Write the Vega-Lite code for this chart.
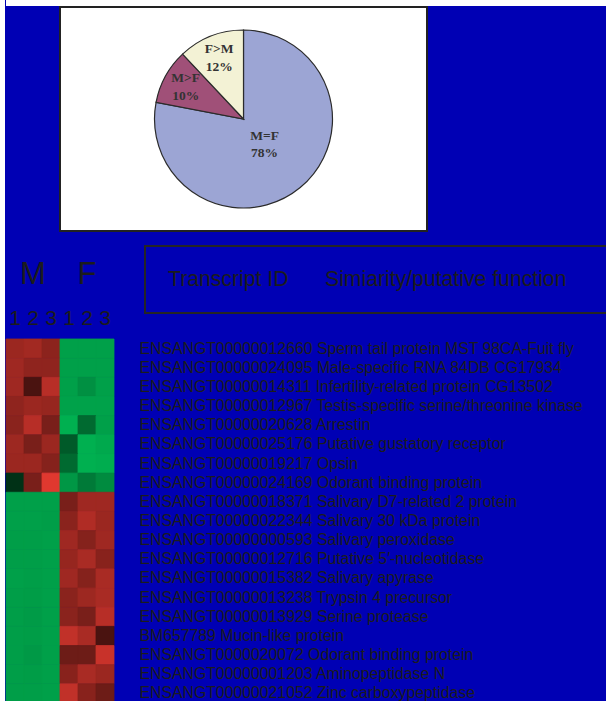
{
  "$schema": "https://vega.github.io/schema/vega-lite/v6.json",
  "background": "#0000b4",
  "padding": 0,
  "spacing": 0,
  "config": {
    "view": {"stroke": null},
    "font": "Liberation Sans",
    "text": {"font": "Liberation Sans", "color": "#1c1c1c"}
  },
  "datasets": {
    "pie": [
      {"grp": "M=F", "pct": 0.78, "k": 1},
      {"grp": "M>F", "pct": 0.10, "k": 2},
      {"grp": "F>M", "pct": 0.12, "k": 3}
    ],
    "head": [
      {"lvl": "sex", "key": "M", "txt": "M"},
      {"lvl": "sex", "key": "F", "txt": "F"},
      {"lvl": "rep", "key": "M1", "txt": "1"},
      {"lvl": "rep", "key": "M2", "txt": "2"},
      {"lvl": "rep", "key": "M3", "txt": "3"},
      {"lvl": "rep", "key": "F1", "txt": "1"},
      {"lvl": "rep", "key": "F2", "txt": "2"},
      {"lvl": "rep", "key": "F3", "txt": "3"}
    ],
    "genes": [
      {"id": "ENSANGT00000012660", "label": "ENSANGT00000012660 Sperm tail protein MST 98CA-Fuit fly"},
      {"id": "ENSANGT00000024095", "label": "ENSANGT00000024095 Male-specific RNA 84DB CG17934"},
      {"id": "ENSANGT00000014311", "label": "ENSANGT00000014311 Infertility-related protein CG13502"},
      {"id": "ENSANGT00000012967", "label": "ENSANGT00000012967 Testis-specific serine/threonine kinase"},
      {"id": "ENSANGT00000020628", "label": "ENSANGT00000020628 Arrestin"},
      {"id": "ENSANGT00000025176", "label": "ENSANGT00000025176 Putative gustatory receptor"},
      {"id": "ENSANGT00000019217", "label": "ENSANGT00000019217 Opsin"},
      {"id": "ENSANGT00000024169", "label": "ENSANGT00000024169 Odorant binding protein"},
      {"id": "ENSANGT00000018371", "label": "ENSANGT00000018371 Salivary D7-related 2 protein"},
      {"id": "ENSANGT00000022344", "label": "ENSANGT00000022344 Salivary 30 kDa protein"},
      {"id": "ENSANGT00000000593", "label": "ENSANGT00000000593 Salivary peroxidase"},
      {"id": "ENSANGT00000012716", "label": "ENSANGT00000012716 Putative 5′-nucleotidase"},
      {"id": "ENSANGT00000015382", "label": "ENSANGT00000015382 Salivary apyrase"},
      {"id": "ENSANGT00000013238", "label": "ENSANGT00000013238 Trypsin 4 precursor"},
      {"id": "ENSANGT00000013929", "label": "ENSANGT00000013929 Serine protease"},
      {"id": "BM657789", "label": "BM657789 Mucin-like protein"},
      {"id": "ENSANGT0000020072", "label": "ENSANGT0000020072 Odorant binding protein"},
      {"id": "ENSANGT00000001203", "label": "ENSANGT00000001203 Aminopeptidase N"},
      {"id": "ENSANGT00000021052", "label": "ENSANGT00000021052 Zinc carboxypeptidase"}
    ],
    "cells": [
      {"id": "ENSANGT00000012660", "s": "M1", "v": 0.65},
      {"id": "ENSANGT00000012660", "s": "M2", "v": 0.68},
      {"id": "ENSANGT00000012660", "s": "M3", "v": 0.59},
      {"id": "ENSANGT00000012660", "s": "F1", "v": -0.89},
      {"id": "ENSANGT00000012660", "s": "F2", "v": -0.89},
      {"id": "ENSANGT00000012660", "s": "F3", "v": -0.89},
      {"id": "ENSANGT00000024095", "s": "M1", "v": 0.67},
      {"id": "ENSANGT00000024095", "s": "M2", "v": 0.60},
      {"id": "ENSANGT00000024095", "s": "M3", "v": 0.60},
      {"id": "ENSANGT00000024095", "s": "F1", "v": -0.89},
      {"id": "ENSANGT00000024095", "s": "F2", "v": -0.89},
      {"id": "ENSANGT00000024095", "s": "F3", "v": -0.89},
      {"id": "ENSANGT00000014311", "s": "M1", "v": 0.67},
      {"id": "ENSANGT00000014311", "s": "M2", "v": 0.31},
      {"id": "ENSANGT00000014311", "s": "M3", "v": 0.77},
      {"id": "ENSANGT00000014311", "s": "F1", "v": -0.89},
      {"id": "ENSANGT00000014311", "s": "F2", "v": -0.80},
      {"id": "ENSANGT00000014311", "s": "F3", "v": -0.89},
      {"id": "ENSANGT00000012967", "s": "M1", "v": 0.60},
      {"id": "ENSANGT00000012967", "s": "M2", "v": 0.65},
      {"id": "ENSANGT00000012967", "s": "M3", "v": 0.63},
      {"id": "ENSANGT00000012967", "s": "F1", "v": -0.90},
      {"id": "ENSANGT00000012967", "s": "F2", "v": -0.90},
      {"id": "ENSANGT00000012967", "s": "F3", "v": -0.90},
      {"id": "ENSANGT00000020628", "s": "M1", "v": 0.58},
      {"id": "ENSANGT00000020628", "s": "M2", "v": 0.77},
      {"id": "ENSANGT00000020628", "s": "M3", "v": 0.51},
      {"id": "ENSANGT00000020628", "s": "F1", "v": -0.98},
      {"id": "ENSANGT00000020628", "s": "F2", "v": -0.59},
      {"id": "ENSANGT00000020628", "s": "F3", "v": -0.89},
      {"id": "ENSANGT00000025176", "s": "M1", "v": 0.66},
      {"id": "ENSANGT00000025176", "s": "M2", "v": 0.51},
      {"id": "ENSANGT00000025176", "s": "M3", "v": 0.65},
      {"id": "ENSANGT00000025176", "s": "F1", "v": -0.50},
      {"id": "ENSANGT00000025176", "s": "F2", "v": -0.98},
      {"id": "ENSANGT00000025176", "s": "F3", "v": -0.94},
      {"id": "ENSANGT00000019217", "s": "M1", "v": 0.65},
      {"id": "ENSANGT00000019217", "s": "M2", "v": 0.65},
      {"id": "ENSANGT00000019217", "s": "M3", "v": 0.56},
      {"id": "ENSANGT00000019217", "s": "F1", "v": -0.59},
      {"id": "ENSANGT00000019217", "s": "F2", "v": -0.98},
      {"id": "ENSANGT00000019217", "s": "F3", "v": -0.96},
      {"id": "ENSANGT00000024169", "s": "M1", "v": -0.27},
      {"id": "ENSANGT00000024169", "s": "M2", "v": 0.51},
      {"id": "ENSANGT00000024169", "s": "M3", "v": 0.94},
      {"id": "ENSANGT00000024169", "s": "F1", "v": -0.84},
      {"id": "ENSANGT00000024169", "s": "F2", "v": -0.68},
      {"id": "ENSANGT00000024169", "s": "F3", "v": -0.77},
      {"id": "ENSANGT00000018371", "s": "M1", "v": -0.89},
      {"id": "ENSANGT00000018371", "s": "M2", "v": -0.89},
      {"id": "ENSANGT00000018371", "s": "M3", "v": -0.89},
      {"id": "ENSANGT00000018371", "s": "F1", "v": 0.51},
      {"id": "ENSANGT00000018371", "s": "F2", "v": 0.67},
      {"id": "ENSANGT00000018371", "s": "F3", "v": 0.67},
      {"id": "ENSANGT00000022344", "s": "M1", "v": -0.89},
      {"id": "ENSANGT00000022344", "s": "M2", "v": -0.89},
      {"id": "ENSANGT00000022344", "s": "M3", "v": -0.88},
      {"id": "ENSANGT00000022344", "s": "F1", "v": 0.58},
      {"id": "ENSANGT00000022344", "s": "F2", "v": 0.74},
      {"id": "ENSANGT00000022344", "s": "F3", "v": 0.65},
      {"id": "ENSANGT00000000593", "s": "M1", "v": -0.88},
      {"id": "ENSANGT00000000593", "s": "M2", "v": -0.88},
      {"id": "ENSANGT00000000593", "s": "M3", "v": -0.89},
      {"id": "ENSANGT00000000593", "s": "F1", "v": 0.67},
      {"id": "ENSANGT00000000593", "s": "F2", "v": 0.56},
      {"id": "ENSANGT00000000593", "s": "F3", "v": 0.67},
      {"id": "ENSANGT00000012716", "s": "M1", "v": -0.88},
      {"id": "ENSANGT00000012716", "s": "M2", "v": -0.88},
      {"id": "ENSANGT00000012716", "s": "M3", "v": -0.89},
      {"id": "ENSANGT00000012716", "s": "F1", "v": 0.63},
      {"id": "ENSANGT00000012716", "s": "F2", "v": 0.71},
      {"id": "ENSANGT00000012716", "s": "F3", "v": 0.57},
      {"id": "ENSANGT00000015382", "s": "M1", "v": -0.89},
      {"id": "ENSANGT00000015382", "s": "M2", "v": -0.88},
      {"id": "ENSANGT00000015382", "s": "M3", "v": -0.89},
      {"id": "ENSANGT00000015382", "s": "F1", "v": 0.67},
      {"id": "ENSANGT00000015382", "s": "F2", "v": 0.56},
      {"id": "ENSANGT00000015382", "s": "F3", "v": 0.71},
      {"id": "ENSANGT00000013238", "s": "M1", "v": -0.88},
      {"id": "ENSANGT00000013238", "s": "M2", "v": -0.87},
      {"id": "ENSANGT00000013238", "s": "M3", "v": -0.89},
      {"id": "ENSANGT00000013238", "s": "F1", "v": 0.58},
      {"id": "ENSANGT00000013238", "s": "F2", "v": 0.66},
      {"id": "ENSANGT00000013238", "s": "F3", "v": 0.71},
      {"id": "ENSANGT00000013929", "s": "M1", "v": -0.88},
      {"id": "ENSANGT00000013929", "s": "M2", "v": -0.86},
      {"id": "ENSANGT00000013929", "s": "M3", "v": -0.89},
      {"id": "ENSANGT00000013929", "s": "F1", "v": 0.58},
      {"id": "ENSANGT00000013929", "s": "F2", "v": 0.51},
      {"id": "ENSANGT00000013929", "s": "F3", "v": 0.77},
      {"id": "BM657789", "s": "M1", "v": -0.88},
      {"id": "BM657789", "s": "M2", "v": -0.87},
      {"id": "BM657789", "s": "M3", "v": -0.89},
      {"id": "BM657789", "s": "F1", "v": 0.81},
      {"id": "BM657789", "s": "F2", "v": 0.71},
      {"id": "BM657789", "s": "F3", "v": 0.31},
      {"id": "ENSANGT0000020072", "s": "M1", "v": -0.88},
      {"id": "ENSANGT0000020072", "s": "M2", "v": -0.85},
      {"id": "ENSANGT0000020072", "s": "M3", "v": -0.89},
      {"id": "ENSANGT0000020072", "s": "F1", "v": 0.46},
      {"id": "ENSANGT0000020072", "s": "F2", "v": 0.46},
      {"id": "ENSANGT0000020072", "s": "F3", "v": 0.84},
      {"id": "ENSANGT00000001203", "s": "M1", "v": -0.88},
      {"id": "ENSANGT00000001203", "s": "M2", "v": -0.87},
      {"id": "ENSANGT00000001203", "s": "M3", "v": -0.89},
      {"id": "ENSANGT00000001203", "s": "F1", "v": 0.57},
      {"id": "ENSANGT00000001203", "s": "F2", "v": 0.71},
      {"id": "ENSANGT00000001203", "s": "F3", "v": 0.65},
      {"id": "ENSANGT00000021052", "s": "M1", "v": -0.88},
      {"id": "ENSANGT00000021052", "s": "M2", "v": -0.88},
      {"id": "ENSANGT00000021052", "s": "M3", "v": -0.89},
      {"id": "ENSANGT00000021052", "s": "F1", "v": 0.81},
      {"id": "ENSANGT00000021052", "s": "F2", "v": 0.57},
      {"id": "ENSANGT00000021052", "s": "F3", "v": 0.46}
    ]
  },
  "hconcat": [
    {
      "width": 5,
      "height": 701,
      "view": {"fill": "white"},
      "data": {"values": []},
      "mark": {"type": "rect"},
      "encoding": {}
    },
    {
      "spacing": 0,
      "vconcat": [
        {
          "width": 601,
          "height": 6,
          "view": {"fill": "white"},
          "data": {"values": []},
          "mark": {"type": "rect"},
          "encoding": {}
        },
        {
          "spacing": 0,
          "hconcat": [
            {
              "width": 53,
              "height": 238,
              "data": {"values": []},
              "mark": {"type": "rect"},
              "encoding": {}
            },
            {
              "width": 367,
              "height": 224,
              "view": {"fill": "white", "stroke": "#222222", "strokeWidth": 2},
              "data": {"name": "pie"},
              "encoding": {
                "theta": {"field": "pct", "type": "quantitative", "stack": true},
                "order": {"field": "k", "type": "quantitative"}
              },
              "layer": [
                {
                  "mark": {"type": "arc", "outerRadius": 89, "stroke": "#2b2b2b", "strokeWidth": 1.2},
                  "encoding": {
                    "color": {
                      "field": "grp",
                      "type": "nominal",
                      "scale": {"domain": ["M=F", "M>F", "F>M"], "range": ["#9ca5d4", "#a05078", "#f3f2d5"]},
                      "legend": null
                    }
                  }
                },
                {
                  "mark": {"type": "text", "radius": 66, "dy": -9, "font": "Liberation Serif", "fontWeight": "bold", "fontSize": 13.5, "color": "#333333"},
                  "encoding": {"text": {"condition": {"test": "datum.grp !== 'M=F'", "field": "grp", "type": "nominal"}, "value": ""}}
                },
                {
                  "mark": {"type": "text", "radius": 66, "dy": 9, "font": "Liberation Serif", "fontWeight": "bold", "fontSize": 13.5, "color": "#333333"},
                  "encoding": {"text": {"condition": {"test": "datum.grp !== 'M=F'", "field": "pct", "type": "quantitative", "format": ".0%"}, "value": ""}}
                },
                {
                  "mark": {"type": "text", "radius": 33, "dy": -8.5, "font": "Liberation Serif", "fontWeight": "bold", "fontSize": 13.5, "color": "#333333"},
                  "encoding": {"text": {"condition": {"test": "datum.grp === 'M=F'", "field": "grp", "type": "nominal"}, "value": ""}}
                },
                {
                  "mark": {"type": "text", "radius": 33, "dy": 8.5, "font": "Liberation Serif", "fontWeight": "bold", "fontSize": 13.5, "color": "#333333"},
                  "encoding": {"text": {"condition": {"test": "datum.grp === 'M=F'", "field": "pct", "type": "quantitative", "format": ".0%"}, "value": ""}}
                }
              ]
            }
          ]
        },
        {
          "spacing": 30,
          "hconcat": [
            {
              "width": 108,
              "height": 92,
              "data": {"name": "head"},
              "encoding": {
                "y": {
                  "field": "lvl",
                  "type": "nominal",
                  "axis": null,
                  "bandPosition": 0.8,
                  "scale": {"type": "band", "domain": ["sex", "rep"], "paddingInner": 0, "paddingOuter": 0.106}
                },
                "text": {"field": "txt", "type": "nominal"}
              },
              "layer": [
                {
                  "transform": [{"filter": "datum.lvl === 'sex'"}],
                  "mark": {"type": "text", "fontSize": 31, "baseline": "alphabetic", "color": "#1c1c1c"},
                  "encoding": {
                    "x": {"field": "key", "type": "nominal", "axis": null, "scale": {"type": "band", "domain": ["M", "F"], "paddingInner": 0, "paddingOuter": 0}}
                  }
                },
                {
                  "transform": [{"filter": "datum.lvl === 'rep'"}],
                  "mark": {"type": "text", "fontSize": 21, "baseline": "alphabetic", "color": "#1c1c1c"},
                  "encoding": {
                    "x": {"field": "key", "type": "nominal", "axis": null, "scale": {"type": "band", "domain": ["M1", "M2", "M3", "F1", "F2", "F3"], "paddingInner": 0, "paddingOuter": 0}}
                  }
                }
              ],
              "resolve": {"scale": {"x": "independent"}}
            },
            {
              "width": 462,
              "height": 67,
              "view": {"stroke": "#252525", "strokeWidth": 2},
              "data": {"values": [{"part": "Transcript ID"}, {"part": "Simiarity/putative function"}]},
              "mark": {"type": "text", "fontSize": 21.2, "align": "left", "baseline": "middle", "color": "#1c1c1c"},
              "encoding": {
                "x": {
                  "field": "part",
                  "type": "nominal",
                  "sort": null,
                  "axis": null,
                  "bandPosition": 0,
                  "scale": {"type": "band", "paddingInner": 0, "paddingOuter": 0.4713, "align": 0.1554}
                },
                "text": {"field": "part", "type": "nominal"}
              }
            }
          ]
        },
        {
          "width": 108,
          "height": 364,
          "data": {"name": "cells"},
          "transform": [
            {"lookup": "id", "from": {"data": {"name": "genes"}, "key": "id", "fields": ["label"]}}
          ],
          "mark": {"type": "rect", "strokeWidth": 0.8},
          "encoding": {
            "x": {
              "field": "s",
              "type": "nominal",
              "sort": ["M1", "M2", "M3", "F1", "F2", "F3"],
              "axis": null,
              "scale": {"paddingInner": 0, "paddingOuter": 0}
            },
            "y": {
              "field": "label",
              "type": "nominal",
              "sort": null,
              "scale": {"paddingInner": 0, "paddingOuter": 0},
              "axis": {
                "orient": "right",
                "title": null,
                "domain": false,
                "ticks": false,
                "grid": false,
                "labelPadding": 25,
                "labelFont": "Liberation Sans",
                "labelFontSize": 15.8,
                "labelColor": "#1c1c1c",
                "labelLimit": 1000
              }
            },
            "color": {
              "field": "v",
              "type": "quantitative",
              "scale": {"domain": [-1, 0, 1], "range": ["#00b452", "#000000", "#ee3c32"], "interpolate": "rgb"},
              "legend": null
            },
            "stroke": {
              "field": "v",
              "type": "quantitative",
              "scale": {"domain": [-1, 0, 1], "range": ["#00b452", "#000000", "#ee3c32"], "interpolate": "rgb"},
              "legend": null
            }
          }
        }
      ]
    }
  ]
}
